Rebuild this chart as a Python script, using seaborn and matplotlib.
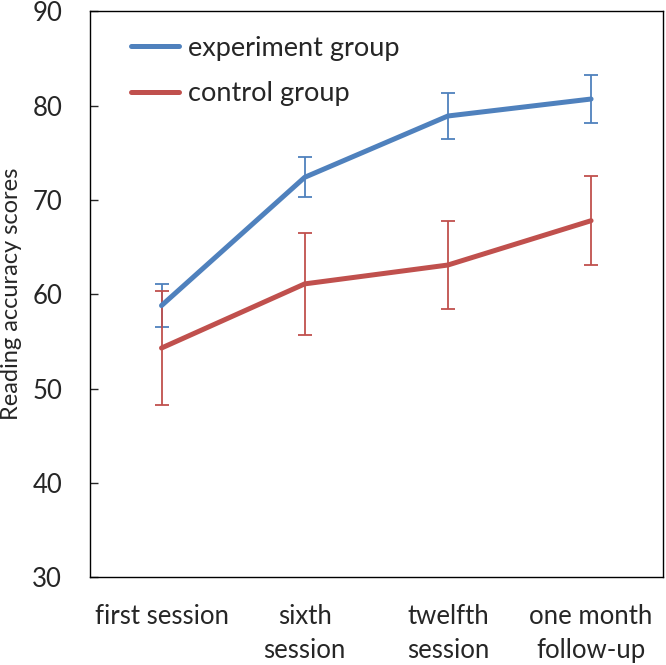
import matplotlib
matplotlib.use("Agg")
import matplotlib.pyplot as plt
import seaborn as sns
import pandas as pd
import numpy as np

sessions = ["first session", "sixth\nsession", "twelfth\nsession", "one month\nfollow-up"]
experiment = [58.8, 72.4, 78.9, 80.7]
experiment_err = [2.3, 2.1, 2.45, 2.5]
control = [54.3, 61.1, 63.1, 67.8]
control_err = [6.0, 5.4, 4.7, 4.7]
yticks = [30, 40, 50, 60, 70, 80, 90]

sns.set_style("white")
plt.rcParams["font.family"] = ["Lato", "DejaVu Sans"]

blue = "#4F81BD"
red = "#C0504D"

df = pd.DataFrame({
    "pos": list(range(len(sessions))) * 2,
    "score": experiment + control,
    "group": ["experiment group"] * 4 + ["control group"] * 4,
})

fig = plt.figure(figsize=(6.66, 6.65), dpi=100)
ax = fig.add_axes([0.135, 0.132, 0.86, 0.851])

x = np.arange(len(sessions))
ax.errorbar(x, experiment, yerr=experiment_err, fmt="none", ecolor=blue,
            elinewidth=1.3, capsize=5, capthick=1.3, zorder=2)
ax.errorbar(x, control, yerr=control_err, fmt="none", ecolor=red,
            elinewidth=1.3, capsize=5, capthick=1.3, zorder=2)

sns.lineplot(data=df, x="pos", y="score", hue="group",
             palette={"experiment group": blue, "control group": red},
             linewidth=3.6, ax=ax, zorder=3)

ax.set_xlim(-0.5, 3.5)
ax.set_ylim(30, 90)
ax.set_yticks(yticks)
ax.set_xticks(x)
ax.set_xticklabels(sessions, fontsize=18.5, linespacing=1.45)
ax.tick_params(axis="y", labelsize=18.5, direction="in", length=6, width=1, left=True, pad=20)
ax.tick_params(axis="x", length=0, pad=19)
ax.set_xlabel("")
ax.set_ylabel("Reading accuracy scores", fontsize=17)
ax.yaxis.set_label_coords(-0.118, 0.5)
for s in ax.spines.values():
    s.set_color("black")
    s.set_linewidth(1)

leg = ax.legend(loc="upper left", frameon=False, fontsize=19.5, handlelength=1.75,
                labelspacing=0.75, handletextpad=0.35, bbox_to_anchor=(0.03, 1.0))

fig.savefig("out.png", dpi=100)
